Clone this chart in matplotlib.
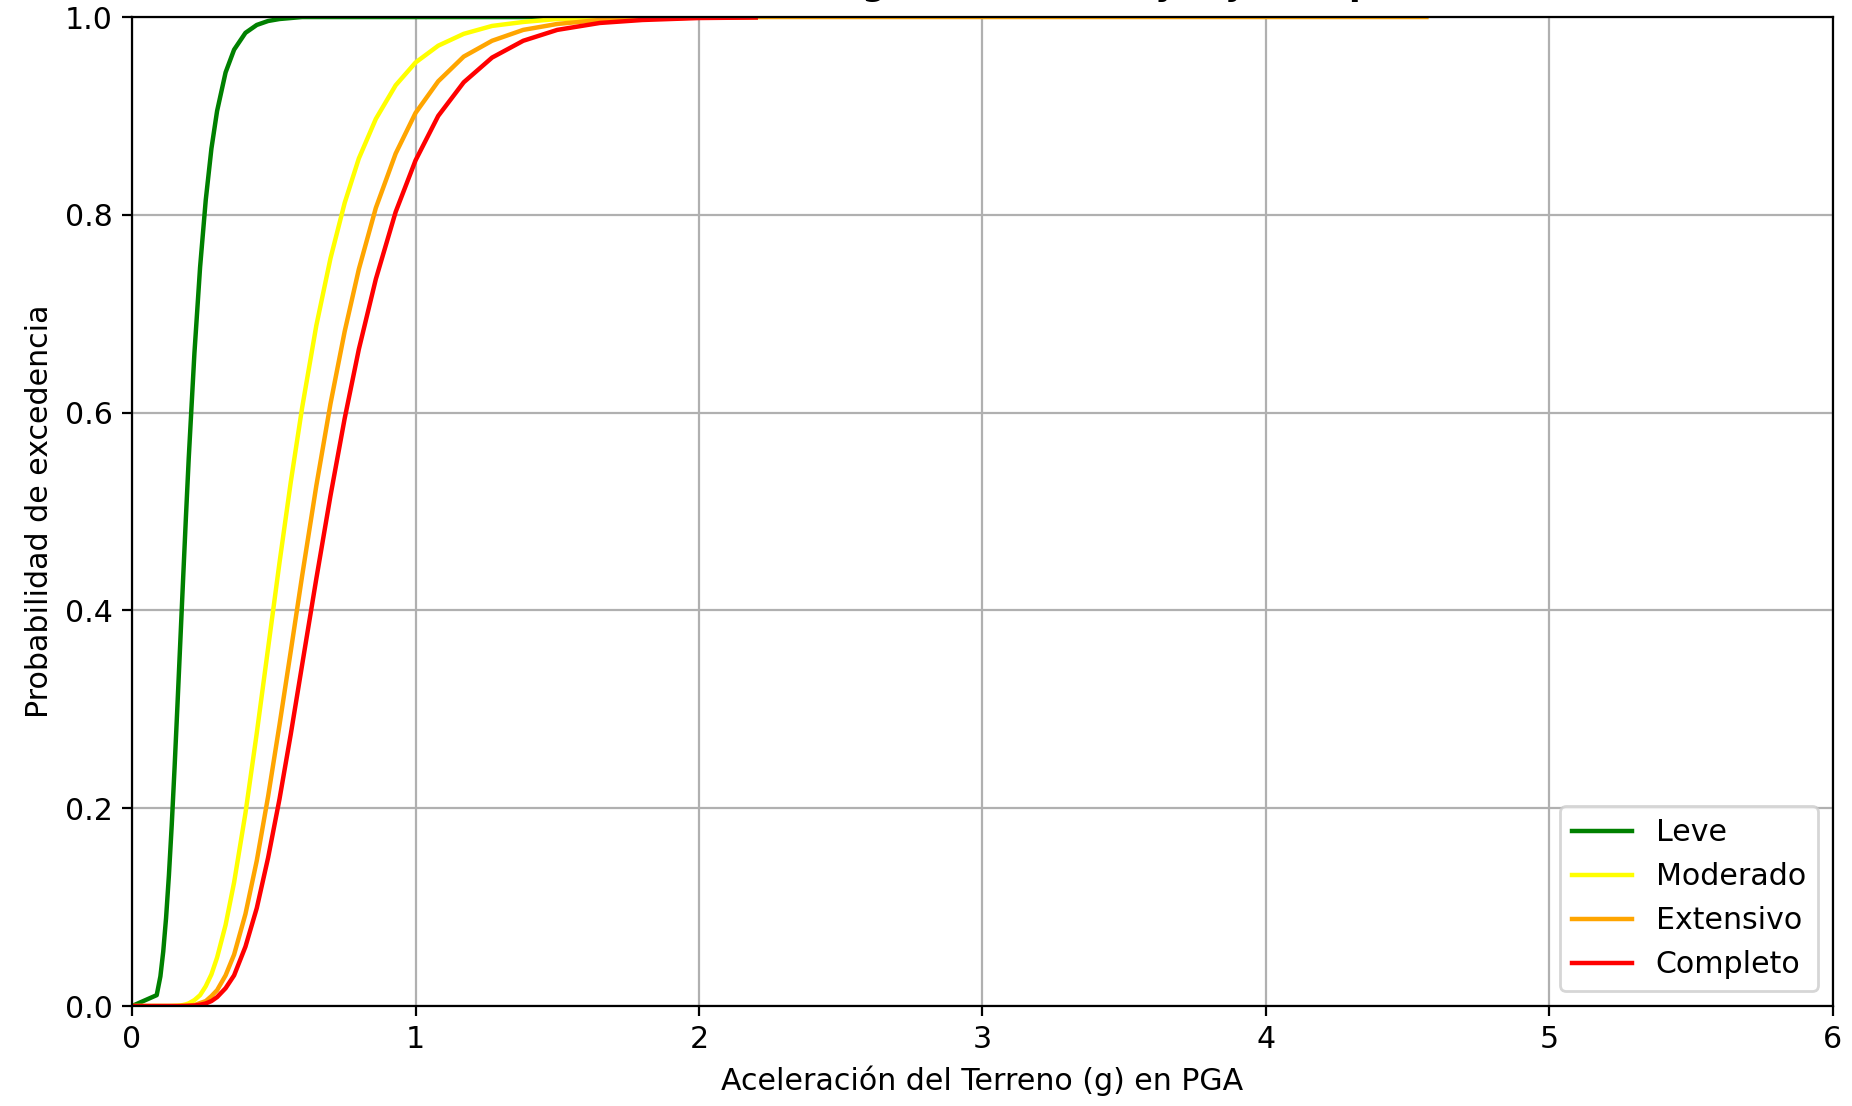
import matplotlib
matplotlib.use("Agg")
import matplotlib.pyplot as plt

# PGA values (g) at which the exceedance probabilities are tabulated
pga = [0.0, 0.087, 0.10, 0.11, 0.12, 0.13, 0.14, 0.15, 0.16, 0.17, 0.18, 0.19, 0.20,
       0.22, 0.24, 0.26, 0.28, 0.30,
       0.33, 0.36, 0.40, 0.44, 0.48, 0.52, 0.56, 0.60,
       0.65, 0.70, 0.75, 0.80, 0.86, 0.93, 1.00,
       1.08, 1.17, 1.27, 1.38, 1.50, 1.65, 1.80, 2.00,
       2.20, 2.50, 3.00, 3.50, 4.00, 4.566]

leve = [0.0, 0.011, 0.030, 0.055, 0.089, 0.132, 0.183, 0.241, 0.303, 0.367, 0.431, 0.494, 0.554,
        0.660, 0.747, 0.815, 0.867, 0.905,
        0.944, 0.967, 0.984, 0.992, 0.996, 0.998, 0.999, 1.0,
        1.0, 1.0, 1.0, 1.0, 1.0, 1.0, 1.0,
        1.0, 1.0, 1.0, 1.0, 1.0, 1.0, 1.0, 1.0,
        1.0]

moderado = [0.0, 0.0, 0.0, 0.0, 0.0, 0.0, 0.0001, 0.0002, 0.0003, 0.0006, 0.001, 0.0017, 0.0027,
            0.006, 0.011, 0.020, 0.032, 0.049,
            0.082, 0.125, 0.195, 0.276, 0.362, 0.448, 0.530, 0.605,
            0.688, 0.756, 0.812, 0.857, 0.897, 0.931, 0.954,
            0.971, 0.983, 0.991, 0.995, 0.998, 0.999, 1.0, 1.0,
            1.0]

extensivo = [0.0, 0.0, 0.0, 0.0, 0.0, 0.0, 0.0, 0.0, 0.0, 0.0, 0.0001, 0.0003, 0.0005,
             0.001, 0.003, 0.005, 0.010, 0.016,
             0.031, 0.052, 0.093, 0.147, 0.212, 0.284, 0.359, 0.435,
             0.526, 0.609, 0.682, 0.745, 0.807, 0.862, 0.903,
             0.935, 0.960, 0.976, 0.987, 0.993, 0.997, 0.998, 0.9995,
             1.0, 1.0, 1.0, 1.0, 1.0, 1.0]

completo = [0.0, 0.0, 0.0, 0.0, 0.0, 0.0, 0.0, 0.0, 0.0, 0.0, 0.0001, 0.0001, 0.0002,
            0.0005, 0.0013, 0.0026, 0.005, 0.009,
            0.018, 0.031, 0.060, 0.099, 0.150, 0.209, 0.275, 0.345,
            0.432, 0.516, 0.594, 0.664, 0.735, 0.803, 0.855,
            0.900, 0.934, 0.959, 0.976, 0.987, 0.994, 0.997, 0.999,
            0.9995]

damage_states = ["Leve", "Moderado", "Extensivo", "Completo"]
colors = ["green", "yellow", "orange", "red"]
curves = [leve, moderado, extensivo, completo]

plt.rcParams["font.size"] = 10.8

fig = plt.figure(figsize=(9.26, 5.53), dpi=200)
ax = fig.add_axes([0.0713, 0.0904, 0.9184, 0.8942])

for name, col, prob in zip(damage_states, colors, curves):
    ax.plot(pga[:len(prob)], prob, color=col, linewidth=1.6, label=name)

ax.set_xlim(0, 6)
ax.set_ylim(0, 1.0)
ax.set_xlabel("Aceleración del Terreno (g) en PGA")
ax.set_ylabel("Probabilidad de excedencia")
ax.grid(True)
ax.legend(loc="lower right")

fig.text(0.55, 1.0 + 5.2 / 1106, "Curvas de Fragilidad - Muros y Tejado tipo B",
         ha="center", va="baseline", fontsize=12, fontweight="bold")

fig.savefig("out.png", dpi=200)
